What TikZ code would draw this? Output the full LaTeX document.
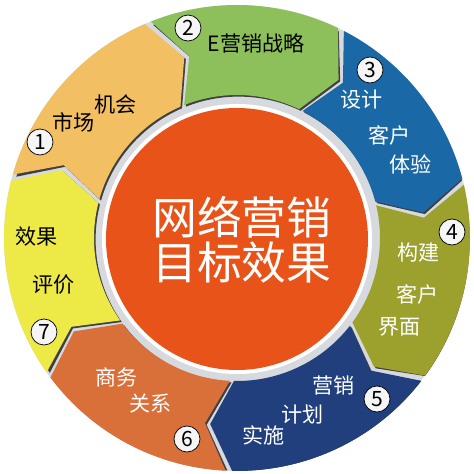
\documentclass[tikz,border=0pt]{standalone}
\usepackage{fontspec}
\newfontfamily\cjk{Noto Sans CJK SC}

\definecolor{segA}{HTML}{F2BF63}
\definecolor{segB}{HTML}{8DC05A}
\definecolor{segC}{HTML}{1A69A6}
\definecolor{segD}{HTML}{9CA02C}
\definecolor{segE}{HTML}{203F7C}
\definecolor{segF}{HTML}{D9703A}
\definecolor{segG}{HTML}{EDE947}
\definecolor{core}{HTML}{E8531A}
\definecolor{ringgray}{HTML}{D6DADE}

\tikzset{
	seglabel/.style={font=\cjk\fontsize{12}{14}\selectfont, inner sep=0pt},
	numbadge/.style={circle, draw=black, fill=gray!8, minimum size=0.52cm, inner sep=0pt, font=\cjk\fontsize{12}{12}\selectfont},
	corelabel/.style={font=\cjk\fontsize{25.5}{28}\selectfont, text=white, inner sep=0pt}
}

\begin{document}
\begin{tikzpicture}[x=0.02cm, y=0.02cm]
		\useasboundingbox (-237,-236) rectangle (237,238);
		%gap colour behind the segments
		\fill[ringgray] (0,0) circle (233);
		
		%seven arrow segments, clockwise
		\foreach \a/\b/\col in {165/112.5/segA, 112.5/63.5/segB, 63.5/14/segC, 14/-37/segD, -37/-92/segE, -92/-144/segF, -144/-195/segG}{
			\fill[black!75, shift={(1.6,-1.6)}] ({\a-0.8}:231) -- ({\a-7.8}:188) -- ({\a-0.8}:143) arc[start angle=\a-0.8, end angle=\b+0.8, radius=143] -- ({\b-6.2}:188) -- ({\b+0.8}:231) arc[start angle=\b+0.8, end angle=\a-0.8, radius=231] -- cycle;
			\fill[\col] ({\a-0.8}:233) -- ({\a-7.8}:188) -- ({\a-0.8}:143) arc[start angle=\a-0.8, end angle=\b+0.8, radius=143] -- ({\b-6.2}:188) -- ({\b+0.8}:233) arc[start angle=\b+0.8, end angle=\a-0.8, radius=233] -- cycle;
		}
		
		%centre disc
		\fill[white] (0,-1) circle (135);
		\fill[core] (0,-1) circle (131);
		\node (line1) at (5,21) [corelabel]{网络营销};
		\node (line2) at (5,-25) [corelabel]{目标效果};
		
		%1
		\node (n1) at (-197,96) [numbadge]{1};
		\node (mkt) at (-163,116) [seglabel]{市场};
		\node (chance) at (-121,134) [seglabel]{机会};
		%2
		\node (n2) at (-49,210) [numbadge]{2};
		\node (strat) at (19,195) [seglabel]{E营销战略};
		%3
		\node (n3) at (133,168) [numbadge]{3};
		\node (design) at (125,138) [seglabel, text=white]{设计};
		\node (client3) at (153,103) [seglabel, text=white]{客户};
		\node (exp) at (174,74) [seglabel, text=white]{体验};
		%4
		\node (n4) at (215,6) [numbadge]{4};
		\node (build) at (182,-14) [seglabel, text=white]{构建};
		\node (client4) at (181,-56) [seglabel, text=white]{客户};
		\node (face) at (163,-89) [seglabel, text=white]{界面};
		%5
		\node (n5) at (140,-161) [numbadge]{5};
		\node (mktg) at (97,-148) [seglabel, text=white]{营销};
		\node (plan) at (66,-176) [seglabel, text=white]{计划};
		\node (run) at (27,-197) [seglabel, text=white]{实施};
		%6
		\node (n6) at (-50,-201) [numbadge]{6};
		\node (biz) at (-120,-139) [seglabel, text=white]{商务};
		\node (rel) at (-86,-166) [seglabel, text=white]{关系};
		%7
		\node (n7) at (-193,-94) [numbadge]{7};
		\node (effect) at (-200,1) [seglabel]{效果};
		\node (judge) at (-183,-47) [seglabel]{评价};
\end{tikzpicture}
\end{document}
